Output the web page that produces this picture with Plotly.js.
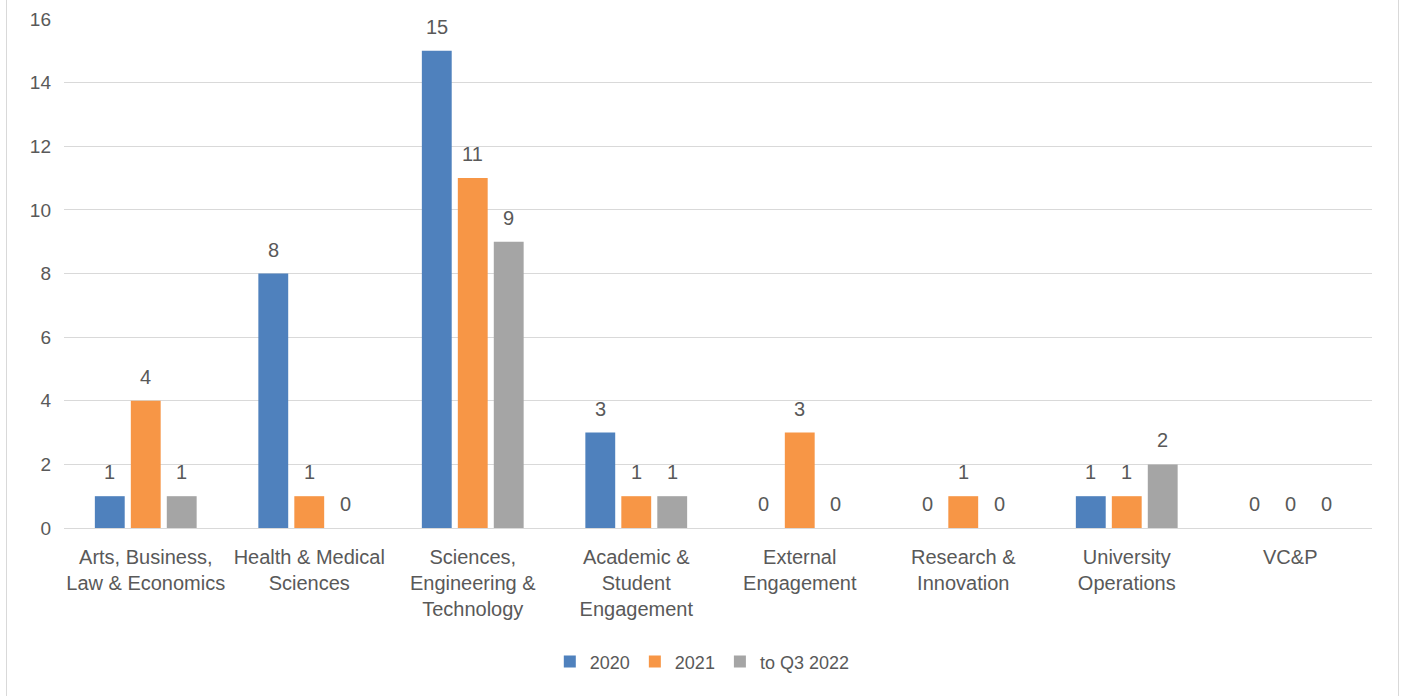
<!DOCTYPE html>
<html>
<head>
<meta charset="utf-8">
<script src="https://cdn.plot.ly/plotly-3.0.1.min.js"></script>
<style>
html, body { margin: 0; padding: 0; background: #fff; overflow: hidden; }
#chart { position: absolute; left: 0; top: 0; width: 1403px; height: 696px; }
#frame { position: absolute; left: 6px; top: -5px; width: 1393px; height: 710px; border: 1px solid #d9d9d9; pointer-events: none; box-sizing: border-box; }
</style>
</head>
<body>
<div id="chart"></div>
<div id="frame"></div>
<script>
const categories = [
  "Arts, Business,<br>Law & Economics",
  "Health & Medical<br>Sciences",
  "Sciences,<br>Engineering &<br>Technology",
  "Academic &<br>Student<br>Engagement",
  "External<br>Engagement",
  "Research &<br>Innovation",
  "University<br>Operations",
  "VC&P"
];
const seriesNames = ["2020", "2021", "to Q3 2022"];
const values2020 = [1, 8, 15, 3, 0, 0, 1, 0];
const values2021 = [4, 1, 11, 1, 3, 1, 1, 0];
const valuesQ3_2022 = [1, 0, 9, 1, 0, 0, 2, 0];
const colors = ["#4f81bd", "#f79646", "#a5a5a5"];
const yTicks = [0, 2, 4, 6, 8, 10, 12, 14, 16];

const FONT = "'Liberation Sans', Arial, sans-serif";
const TXT = "#595959";

const W = 1403, H = 696;
const margin = { l: 64, r: 31, t: 19, b: 168 };
const bargap = 0.34;
const plotW = W - margin.l - margin.r;

const allValues = [values2020, values2021, valuesQ3_2022];
const traces = allValues.map((vals, i) => ({
  type: "bar",
  name: seriesNames[i],
  x: categories,
  y: vals,
  marker: { color: colors[i] },
  hoverinfo: "x+y+name"
}));

// value labels placed above each bar (offset per series follows the group layout)
const slot = (plotW / categories.length) * (1 - bargap) / allValues.length;
const annotations = [];
allValues.forEach((vals, i) => {
  vals.forEach((v, j) => {
    annotations.push({
      x: categories[j], y: v, xref: "x", yref: "y",
      text: String(v), showarrow: false,
      xshift: (i - (allValues.length - 1) / 2) * slot,
      yshift: 24, yanchor: "middle",
      font: { family: FONT, size: 20, color: TXT }
    });
  });
});

const layout = {
  width: W,
  height: H,
  margin: margin,
  paper_bgcolor: "#ffffff",
  plot_bgcolor: "#ffffff",
  barmode: "group",
  bargap: bargap,
  bargroupgap: 0.17,
  font: { family: FONT, size: 18, color: TXT },
  showlegend: true,
  legend: {
    orientation: "h",
    x: 0.488, xanchor: "center",
    y: -0.263, yanchor: "middle",
    font: { family: FONT, size: 18, color: TXT },
    itemwidth: 30
  },
  annotations: annotations,
  xaxis: {
    type: "category",
    showgrid: false,
    showline: true,
    linecolor: "#d9d9d9",
    linewidth: 1,
    ticks: "",
    ticklabelstandoff: 11,
    tickfont: { family: FONT, size: 20, color: TXT },
    fixedrange: true
  },
  yaxis: {
    range: [0, 16],
    tickvals: yTicks,
    ticktext: yTicks.map(String),
    showgrid: true,
    gridcolor: "#d9d9d9",
    gridwidth: 1,
    zeroline: true,
    zerolinecolor: "#d9d9d9",
    showline: false,
    ticks: "",
    ticklabelstandoff: 12,
    tickfont: { family: FONT, size: 19, color: TXT },
    fixedrange: true
  }
};

Plotly.newPlot("chart", traces, layout, { displayModeBar: false, staticPlot: true });
</script>
</body>
</html>
